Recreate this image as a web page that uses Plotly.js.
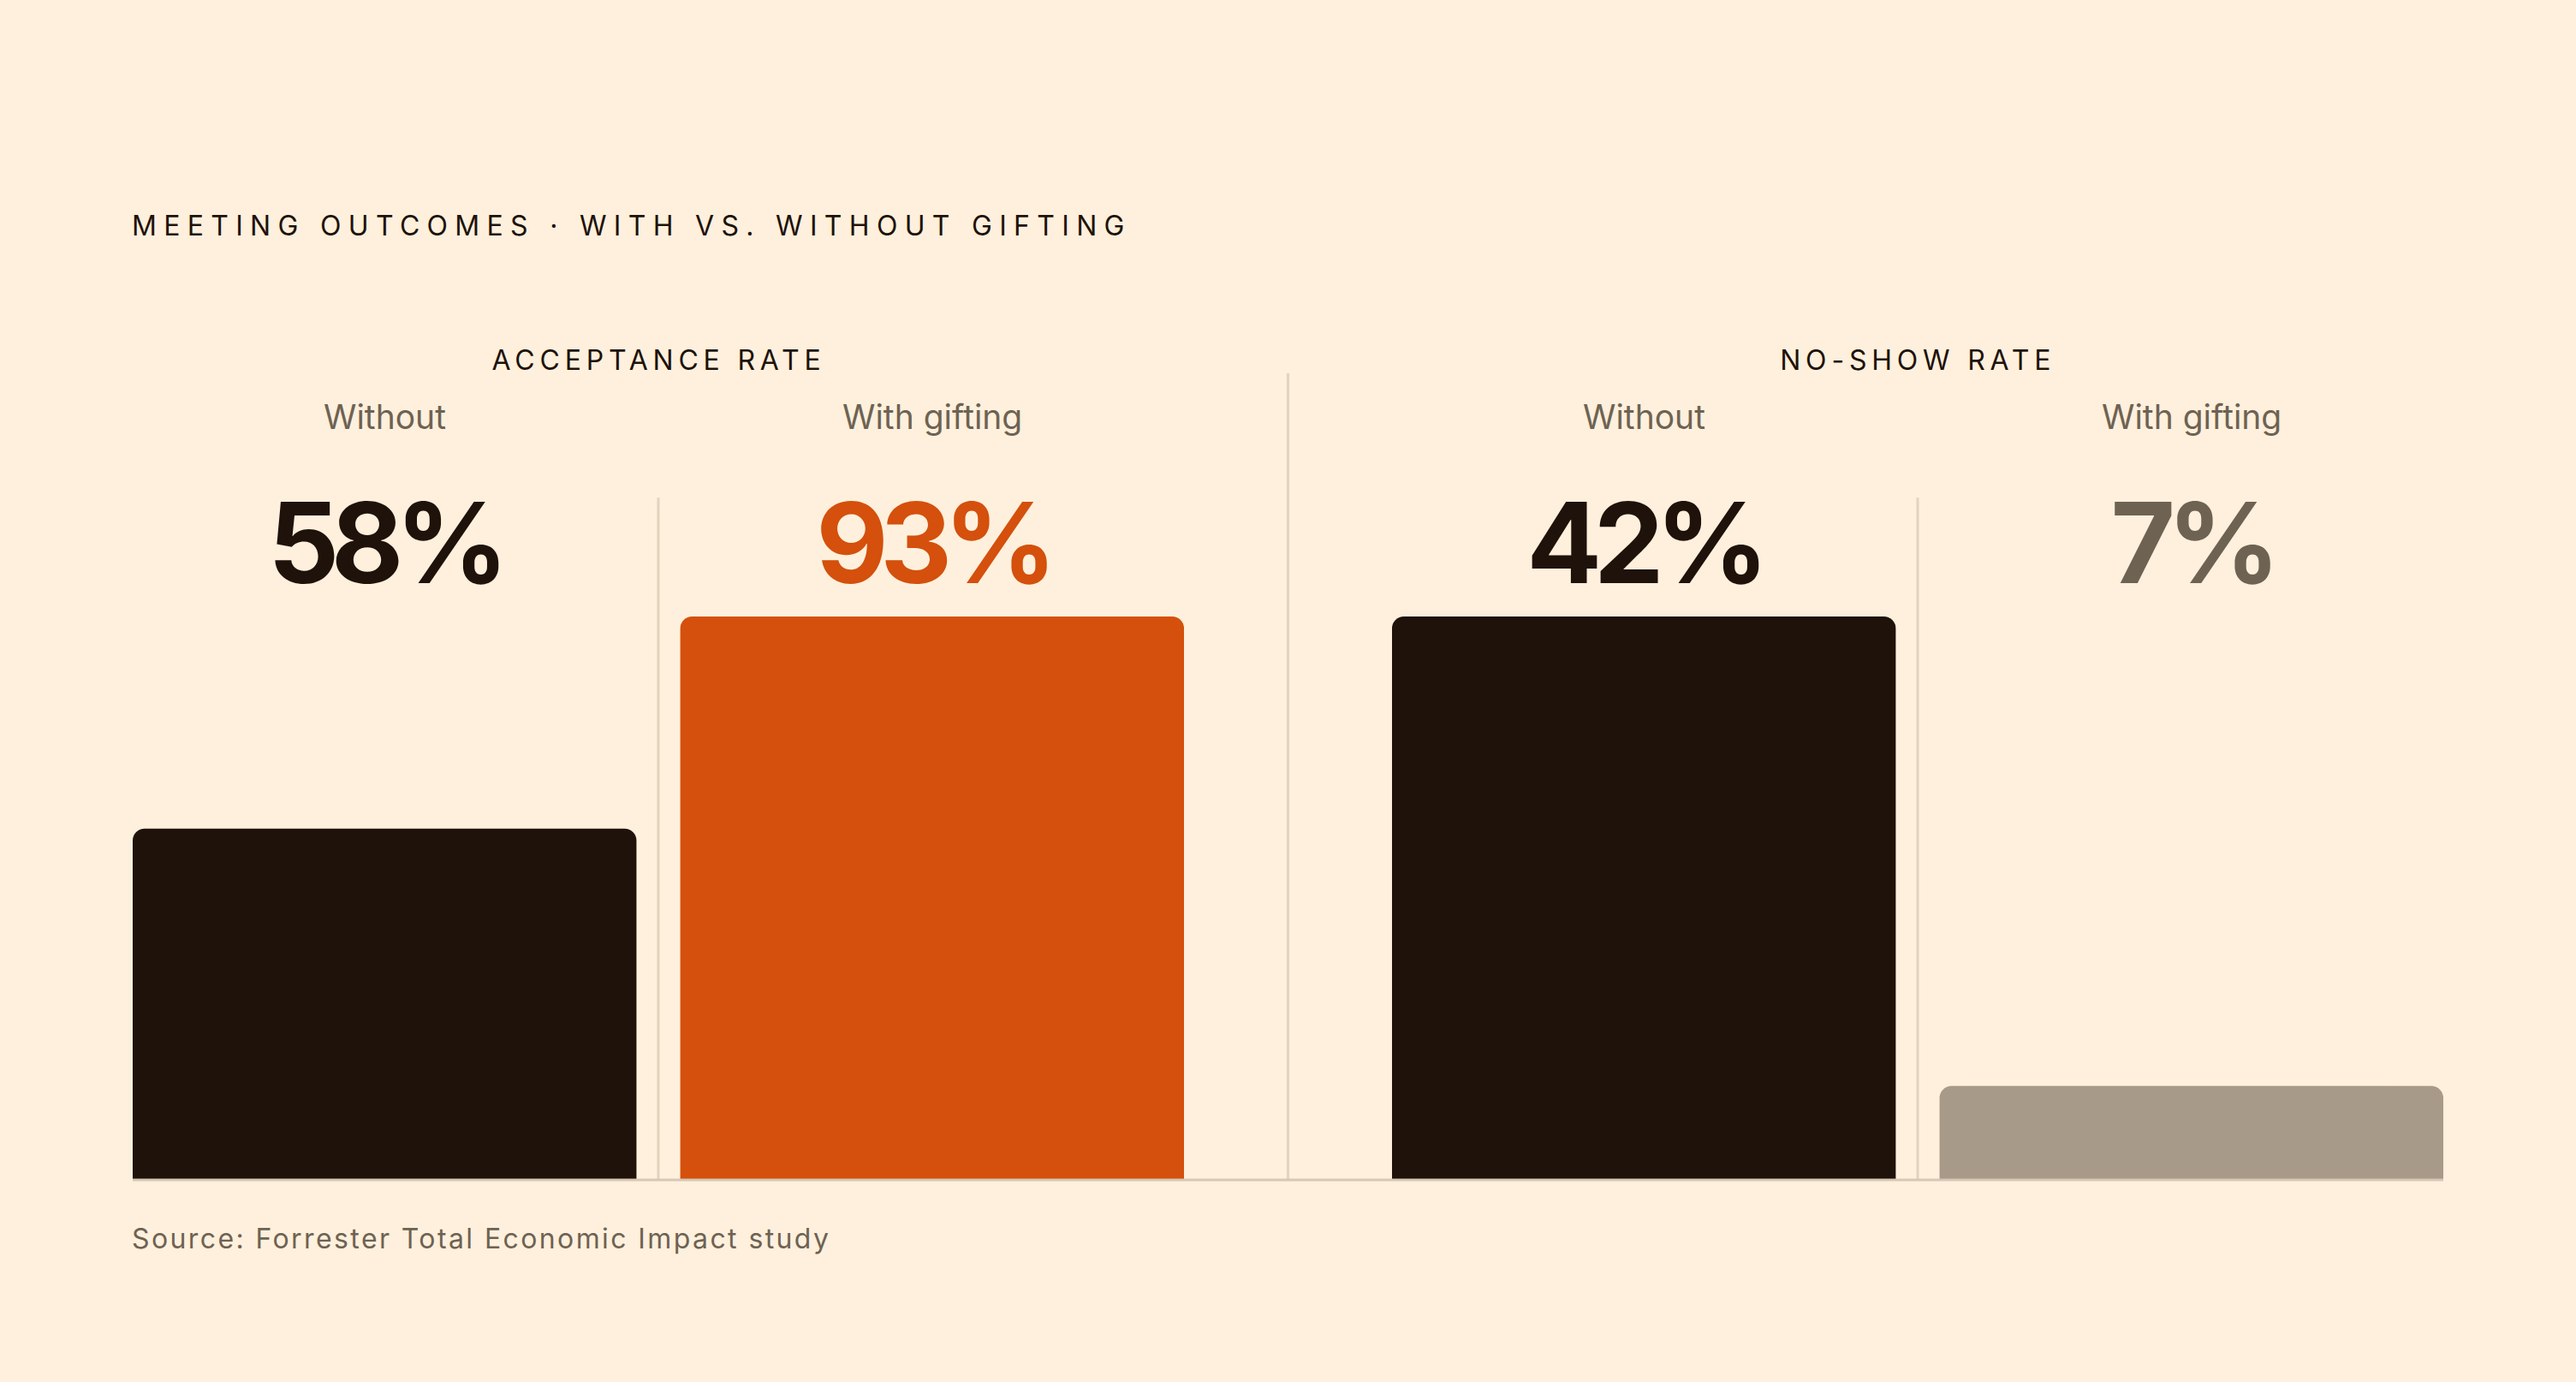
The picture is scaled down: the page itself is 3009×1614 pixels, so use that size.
<!DOCTYPE html>
<html>
<head>
<meta charset="utf-8">
<script src="https://cdn.plot.ly/plotly-3.0.1.min.js"></script>
<style>
  html, body { margin: 0; padding: 0; background: #fef0dc; }
  #chart { width: 3009px; height: 1614px; }
  /* spaced-out caps for the title and the two panel headers */
  g.annotation[data-index="0"] text { letter-spacing: 8.3px; }
  g.annotation[data-index="1"] text,
  g.annotation[data-index="2"] text { letter-spacing: 5.8px; }
  /* tighter big numbers */
  g.annotation[data-index="4"] text,
  g.annotation[data-index="6"] text,
  g.annotation[data-index="8"] text,
  g.annotation[data-index="10"] text { letter-spacing: -9.5px; }
  g.annotation[data-index="11"] text { letter-spacing: 2.4px; }
</style>
</head>
<body>
<div id="chart"></div>
<script>
// data
var chartTitle = "MEETING OUTCOMES · WITH VS. WITHOUT GIFTING";
var panels = ["ACCEPTANCE RATE", "NO-SHOW RATE"];
var groups = ["Without", "With gifting"];
var acceptance = [58, 93];
var noShow = [42, 7];
var source = "Source: Forrester Total Economic Impact study";

var barColors = [["#1e120a", "#d4500c"], ["#1e120a", "#a89a88"]];
var labelColors = [["#1e120a", "#d4500c"], ["#1e120a", "#6e6253"]];

var ink = "#1e120a";
var muted = "#6e6253";
var rule = "#e2d3bf";
var font = "Inter, 'DejaVu Sans', sans-serif";

var series = [acceptance, noShow];
var axes = [["x", "y"], ["x2", "y2"]];

var data = series.map(function (vals, i) {
  return {
    type: "bar",
    x: groups,
    y: vals,
    xaxis: axes[i][0],
    yaxis: axes[i][1],
    width: 0.92,
    marker: { color: barColors[i], cornerradius: 14 },
    hoverinfo: "skip"
  };
});

// text: title, panel headers, then per-bar sub labels and values
var annotations = [
  { text: chartTitle, xref: "paper", yref: "paper", x: -0.0012, y: 1.6945,
    xanchor: "left", yanchor: "middle", align: "left", showarrow: false,
    font: { family: font, size: 32, color: ink } }
];
var panelCenters = [0.2275, 0.7725];
panels.forEach(function (p, i) {
  annotations.push({ text: p, xref: "paper", yref: "paper", x: panelCenters[i], y: 1.455,
    xanchor: "center", yanchor: "middle", showarrow: false,
    font: { family: font, size: 32, color: ink } });
});
series.forEach(function (vals, i) {
  groups.forEach(function (g, j) {
    annotations.push({ text: g, xref: axes[i][0], yref: "paper", x: g, y: 1.3556,
      xanchor: "center", yanchor: "middle", showarrow: false,
      font: { family: font, size: 39, color: muted } });
    annotations.push({ text: "<b>" + vals[j] + "%</b>", xref: axes[i][0], yref: "paper", x: g, y: 1.1307,
      xanchor: "center", yanchor: "middle", showarrow: false,
      font: { family: font, size: 130, color: labelColors[i][j] } });
  });
});
annotations.push({ text: source, xref: "paper", yref: "paper", x: -0.0012, y: -0.1035,
  xanchor: "left", yanchor: "middle", align: "left", showarrow: false,
  font: { family: font, size: 32, color: muted } });

var shapes = [
  // centre divider between the panels
  { type: "line", xref: "paper", yref: "paper", x0: 0.5, x1: 0.5, y0: 0, y1: 1.4316,
    line: { color: rule, width: 3 }, layer: "below" },
  // dividers between bars in each panel
  { type: "line", xref: "x", yref: "paper", x0: 0.5, x1: 0.5, y0: 0, y1: 1.211,
    line: { color: rule, width: 3 }, layer: "below" },
  { type: "line", xref: "x2", yref: "paper", x0: 0.5, x1: 0.5, y0: 0, y1: 1.211,
    line: { color: rule, width: 3 }, layer: "below" },
  // baseline
  { type: "line", xref: "paper", yref: "paper", x0: 0, x1: 1, y0: 0, y1: 0,
    line: { color: "#d6c8b5", width: 3 }, layer: "above" }
];

function xAx(domain) {
  return { domain: domain, range: [-0.46, 1.46], type: "category",
    showticklabels: false, showgrid: false, zeroline: false, showline: false, fixedrange: true };
}
function yAx(vals, anchor) {
  return { range: [0, Math.max.apply(null, vals)], anchor: anchor,
    visible: false, showgrid: false, zeroline: false, fixedrange: true };
}

var layout = {
  width: 3009,
  height: 1614,
  paper_bgcolor: "#fef0dc",
  plot_bgcolor: "#fef0dc",
  margin: { l: 155, r: 155, t: 720, b: 236 },
  showlegend: false,
  xaxis: xAx([0, 0.455]),
  xaxis2: Object.assign(xAx([0.545, 1]), { anchor: "y2" }),
  yaxis: yAx(acceptance, "x"),
  yaxis2: yAx(noShow, "x2"),
  annotations: annotations,
  shapes: shapes
};

Plotly.newPlot("chart", data, layout, { displayModeBar: false, staticPlot: true });
</script>
</body>
</html>
